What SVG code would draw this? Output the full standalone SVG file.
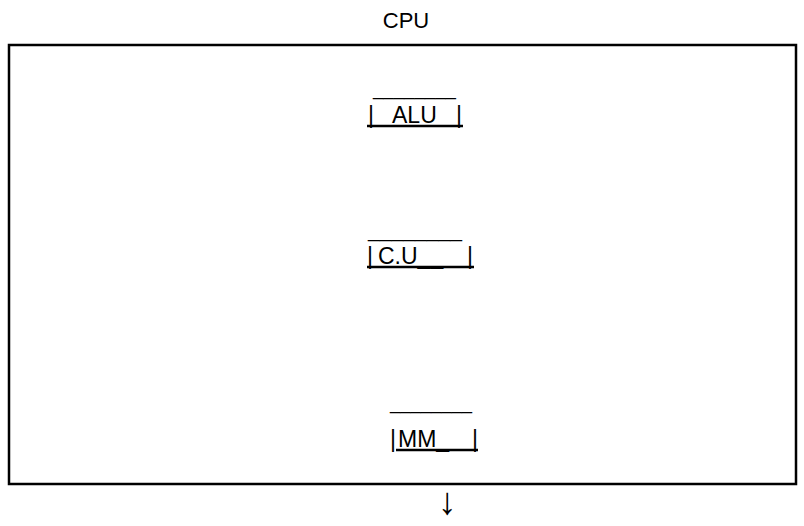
<svg xmlns="http://www.w3.org/2000/svg" width="804" height="526" viewBox="0 0 804 526">
<style>
text{font-family:"Liberation Sans",Arial,sans-serif;font-size:22px;fill:#000}
.n{font-size:23px}
.ul{stroke:#000;stroke-width:2.5}
.arrow{font-family:"Liberation Sans","DejaVu Sans",sans-serif;font-size:38px}
</style>
<rect width="804" height="526" fill="#fff"/>
<text id="title" x="406" y="28" text-anchor="middle">CPU</text>
<g id="cpu">
<rect x="9" y="45" width="787" height="439" fill="none" stroke="#000" stroke-width="2.5"/>
</g>
<g id="alu">
<text x="373" y="95" textLength="83" lengthAdjust="spacingAndGlyphs">________</text>
<text class="n" y="123"><tspan x="368">|</tspan> <tspan x="392">ALU</tspan> <tspan x="456">|</tspan></text>
<line class="ul" x1="367" y1="126" x2="463" y2="126"/>
</g>
<g id="cu">
<text x="368" y="237" textLength="94" lengthAdjust="spacingAndGlyphs">________</text>
<text class="n" y="264"><tspan x="367">|</tspan> <tspan x="378">C.U__</tspan> <tspan x="467">|</tspan></text>
<line class="ul" x1="367" y1="267" x2="474" y2="267"/>
</g>
<g id="mm">
<text x="390" y="409" textLength="82" lengthAdjust="spacingAndGlyphs">________</text>
<text class="n" y="447"><tspan x="390">|</tspan><tspan x="398">MM_</tspan><tspan x="472">|</tspan></text>
<line class="ul" x1="396" y1="450" x2="478" y2="450"/>
</g>
<g id="connectors">
<text class="arrow" x="447" y="514" text-anchor="middle">↓</text>
</g>
</svg>
